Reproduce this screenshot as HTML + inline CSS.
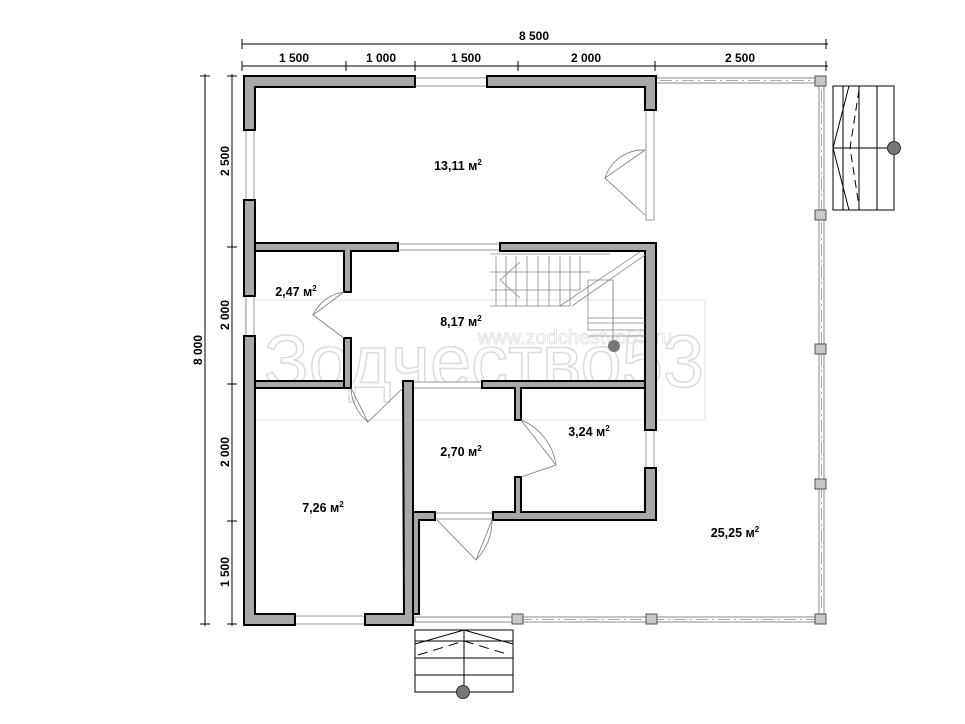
<!DOCTYPE html>
<html><head><meta charset="utf-8"><style>
html,body{margin:0;padding:0;background:#fff;}
svg{display:block;}
text{font-family:"Liberation Sans",sans-serif;font-weight:bold;fill:#000;}
</style></head><body>
<svg width="965" height="724" viewBox="0 0 965 724" xmlns="http://www.w3.org/2000/svg">
<!-- watermark -->
<g opacity="0.9">
<rect x="245" y="300" width="460" height="120" fill="none" stroke="#e4e4e4" stroke-width="1"/>
<text x="484" y="387" font-size="74" text-anchor="middle" style="font-weight:normal;fill:none;stroke:#d8d8d8;stroke-width:1.5">Зодчество53</text>
<text x="575" y="344" font-size="20" text-anchor="middle" style="font-weight:normal;fill:none;stroke:#dcdcdc;stroke-width:0.8">www.zodchestvo53.ru</text>
</g>
<!-- dimension lines -->
<g stroke="#000" stroke-width="1" fill="none">
<line x1="242" y1="44" x2="828" y2="44"/>
<line x1="242" y1="66" x2="828" y2="66"/>
<line x1="205" y1="74" x2="205" y2="626"/>
<line x1="232" y1="74" x2="232" y2="626"/>
</g>
<g stroke="#000" stroke-width="1">
<line x1="242" y1="39" x2="242" y2="49"/><line x1="826" y1="39" x2="826" y2="49"/>
<line x1="242" y1="61" x2="242" y2="71"/><line x1="346" y1="61" x2="346" y2="71"/>
<line x1="415" y1="61" x2="415" y2="71"/><line x1="518" y1="61" x2="518" y2="71"/>
<line x1="655" y1="61" x2="655" y2="71"/><line x1="826" y1="61" x2="826" y2="71"/>
<line x1="200" y1="76" x2="210" y2="76"/><line x1="200" y1="624" x2="210" y2="624"/>
<line x1="227" y1="76" x2="237" y2="76"/><line x1="227" y1="247" x2="237" y2="247"/>
<line x1="227" y1="384" x2="237" y2="384"/><line x1="227" y1="521" x2="237" y2="521"/>
<line x1="227" y1="624" x2="237" y2="624"/>
</g>
<g font-size="12">
<text x="534" y="40" text-anchor="middle">8 500</text>
<text x="294" y="62" text-anchor="middle">1 500</text>
<text x="381" y="62" text-anchor="middle">1 000</text>
<text x="466" y="62" text-anchor="middle">1 500</text>
<text x="586" y="62" text-anchor="middle">2 000</text>
<text x="740" y="62" text-anchor="middle">2 500</text>
<text transform="translate(202,350) rotate(-90)" text-anchor="middle">8 000</text>
<text transform="translate(229,161) rotate(-90)" text-anchor="middle">2 500</text>
<text transform="translate(229,315) rotate(-90)" text-anchor="middle">2 000</text>
<text transform="translate(229,452) rotate(-90)" text-anchor="middle">2 000</text>
<text transform="translate(229,572) rotate(-90)" text-anchor="middle">1 500</text>
</g>
<!-- windows (thin double lines) -->
<g fill="#fff" stroke="#999" stroke-width="1">
<rect x="415" y="78" width="72" height="8"/>
<rect x="246" y="130" width="8" height="70"/>
<rect x="246" y="296" width="8" height="40"/>
<rect x="646" y="110" width="8" height="110"/>
<rect x="398" y="244" width="102" height="6"/>
<rect x="413" y="382" width="69" height="6"/>
<rect x="646" y="430" width="8" height="38"/>
<rect x="295" y="616" width="70" height="8"/>
<rect x="435" y="513" width="58" height="6"/>
</g>
<!-- porch rails -->
<g fill="none" stroke="#888" stroke-width="1">
<rect x="656" y="78" width="164" height="5"/>
<rect x="819" y="85" width="5" height="533"/>
<rect x="415" y="617" width="404" height="5"/>
</g>
<g fill="none" stroke="#aaa" stroke-width="1" stroke-dasharray="12,4,2,4">
<line x1="660" y1="80.5" x2="815" y2="80.5"/>
<line x1="821.5" y1="90" x2="821.5" y2="612"/>
<line x1="520" y1="619.5" x2="815" y2="619.5"/>
</g>
<!-- walls -->
<g fill="#a8a8a8" stroke="#000" stroke-width="2">
<path d="M244,76 H415 V87 H255 V130 H244 Z"/>
<path d="M487,76 H656 V110 H645 V87 H487 Z"/>
<rect x="244" y="200" width="11" height="96"/>
<path d="M244,336 H255 V614 H295 V625 H244 Z"/>
<path d="M255,243 H398 V251 H351 V292 H344 V251 H255 Z"/>
<path d="M500,243 H656 V430 H645 V251 H500 Z"/>
<rect x="344" y="338" width="7" height="50"/>
<rect x="255" y="381" width="89" height="7"/>
<path d="M403,381 H413 V625 H365 V614 H404 Z"/>
<path d="M482,381 H645 V388 H521 V420 H515 V388 H482 Z"/>
<path d="M645,468 H656 V520 H493 V512 H515 V477 H521 V512 H645 Z"/>
<path d="M413,512 H435 V520 H419 V614 H413 Z"/>
</g>
<!-- posts -->
<g fill="#c8c8c8" stroke="#555" stroke-width="1">
<rect x="815" y="76" width="11" height="10"/>
<rect x="815" y="210" width="11" height="10"/>
<rect x="815" y="344" width="11" height="10"/>
<rect x="815" y="479" width="11" height="10"/>
<rect x="815" y="614" width="11" height="10"/>
<rect x="512" y="614" width="11" height="10"/>
<rect x="646" y="614" width="11" height="10"/>
</g>
<!-- doors -->
<g fill="none" stroke="#777" stroke-width="0.8">
<path d="M645,150 L605,178 L645,215"/><path d="M605,178 A40,40 0 0 1 645,150"/>
<path d="M344,292 L313,315 L344,338"/><path d="M313,315 A40,40 0 0 1 344,292"/>
<path d="M351,388 L368,422 L403,388"/><path d="M351,388 A45,45 0 0 0 368,422"/>
<path d="M521,420 L556,465 L521,477"/><path d="M521,420 A57,57 0 0 1 556,465"/>
<path d="M437,520 L476,560 L492,520"/><path d="M492,520 A56,56 0 0 1 476,560"/>
</g>
<!-- inner stair -->
<g fill="none" stroke="#888" stroke-width="0.8">
<path d="M490,254 H610 M490,272 H590 M490,290 H580 M490,306 H570"/>
<path d="M496,256 V306 M506,256 V306 M516,256 V306 M527,256 V306 M538,256 V306 M549,256 V306 M560,256 V306 M570,256 V306 M580,256 V290"/>
<path d="M560,306 L640,252 M572,306 L645,255"/>
<path d="M500,280 L520,262 M500,280 L520,298"/>
<path d="M588,280 H613 V330 M588,280 V330 H645 M588,318 H645 M588,323 H645 M588,336 H645"/>
<line x1="613" y1="280" x2="613" y2="345"/>
</g>
<circle cx="614" cy="346" r="6" fill="#777"/>
<!-- right stairs -->
<g fill="none" stroke="#000" stroke-width="1">
<rect x="833" y="86" width="61" height="124"/>
<line x1="843" y1="86" x2="843" y2="210"/>
<line x1="859" y1="86" x2="859" y2="210"/>
<line x1="877" y1="86" x2="877" y2="210"/>
<line x1="833" y1="148" x2="894" y2="148"/>
<path d="M849,86 L833,148 L849,210"/>
<path d="M859,90 L850,148 L859,206" stroke-dasharray="8,5"/>
</g>
<circle cx="894" cy="148" r="6.5" fill="#777" stroke="#333"/>
<!-- bottom stairs -->
<g fill="none" stroke="#000" stroke-width="1">
<rect x="415" y="630" width="98" height="62"/>
<line x1="415" y1="641" x2="513" y2="641"/>
<line x1="415" y1="658" x2="513" y2="658"/>
<line x1="415" y1="675" x2="513" y2="675"/>
<line x1="464" y1="630" x2="464" y2="692"/>
<path d="M415,644 L464,630 L513,644"/>
<path d="M418,655 L464,641 L510,655" stroke-dasharray="10,6"/>
</g>
<circle cx="463" cy="692" r="6.5" fill="#777" stroke="#333"/>
<!-- labels -->
<g font-size="12.5">
<text x="458" y="170" text-anchor="middle">13,11 м<tspan dy="-5" font-size="8">2</tspan></text>
<text x="296" y="296" text-anchor="middle">2,47 м<tspan dy="-5" font-size="8">2</tspan></text>
<text x="461" y="326" text-anchor="middle">8,17 м<tspan dy="-5" font-size="8">2</tspan></text>
<text x="589" y="436" text-anchor="middle">3,24 м<tspan dy="-5" font-size="8">2</tspan></text>
<text x="461" y="456" text-anchor="middle">2,70 м<tspan dy="-5" font-size="8">2</tspan></text>
<text x="323" y="512" text-anchor="middle">7,26 м<tspan dy="-5" font-size="8">2</tspan></text>
<text x="735" y="537" text-anchor="middle">25,25 м<tspan dy="-5" font-size="8">2</tspan></text>
</g>
</svg>
</body></html>
